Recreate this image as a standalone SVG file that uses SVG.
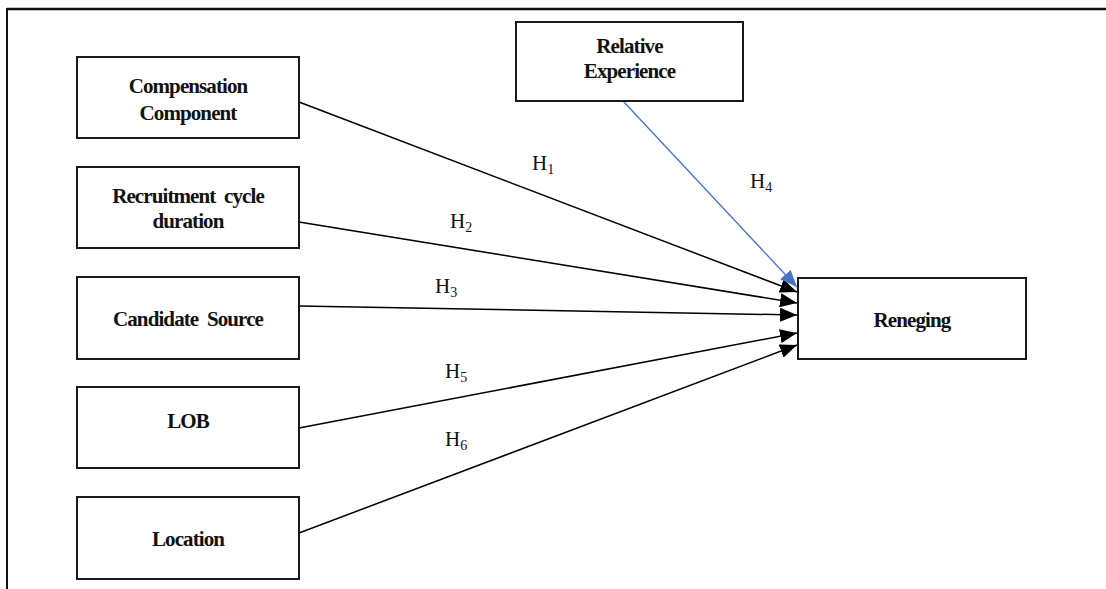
<svg xmlns="http://www.w3.org/2000/svg" width="1106" height="589" viewBox="0 0 1106 589">
<style>
.box{fill:#fff;stroke:#1a1a1a;stroke-width:2}
.lbl{font-family:"Liberation Serif","Times New Roman",serif;font-weight:bold;font-size:21px;letter-spacing:-0.9px;fill:#111;text-anchor:middle}
.h{font-family:"Liberation Serif","Times New Roman",serif;font-size:21px;fill:#111}
.h tspan{font-size:14px}
.c{stroke:#000;stroke-width:1.5;fill:none}
.cb{stroke:#4472C4;stroke-width:1.3;fill:none}
</style>
<defs>
<marker id="ab" markerUnits="userSpaceOnUse" markerWidth="18" markerHeight="14" refX="17" refY="7" orient="auto" viewBox="0 0 18 14">
<path d="M0,0 L17,7 L0,14 z" fill="#000"/>
</marker>
<marker id="abl" markerUnits="userSpaceOnUse" markerWidth="18" markerHeight="14" refX="17" refY="7" orient="auto" viewBox="0 0 18 14">
<path d="M0,0 L17,7 L0,14 z" fill="#4472C4"/>
</marker>
</defs>
<g id="frame">
<line x1="7" y1="9" x2="1106" y2="9" stroke="#111" stroke-width="2.5"/>
<line x1="7" y1="8" x2="7" y2="589" stroke="#111" stroke-width="2"/>
</g>
<g id="connectors">
<line class="c" x1="299" y1="102" x2="797" y2="292" marker-end="url(#ab)"/>
<line class="c" x1="299" y1="222" x2="797" y2="303" marker-end="url(#ab)"/>
<line class="c" x1="299" y1="306" x2="797" y2="315" marker-end="url(#ab)"/>
<line class="c" x1="299" y1="428" x2="797" y2="333" marker-end="url(#ab)"/>
<line class="c" x1="299" y1="533" x2="797" y2="345" marker-end="url(#ab)"/>
<line class="cb" x1="623" y1="101" x2="797" y2="287" marker-end="url(#abl)"/>
<text class="h" x="532" y="170">H<tspan dy="4">1</tspan></text>
<text class="h" x="450" y="228">H<tspan dy="4">2</tspan></text>
<text class="h" x="435" y="293">H<tspan dy="4">3</tspan></text>
<text class="h" x="750" y="188">H<tspan dy="4">4</tspan></text>
<text class="h" x="445" y="378">H<tspan dy="4">5</tspan></text>
<text class="h" x="445" y="446">H<tspan dy="4">6</tspan></text>
</g>
<g id="compensation">
<rect class="box" x="77" y="57" width="222" height="81"/>
<text class="lbl" x="188" y="93">Compensation</text>
<text class="lbl" x="188" y="120">Component</text>
</g>
<g id="recruitment">
<rect class="box" x="77" y="167" width="222" height="81"/>
<text class="lbl" x="188" y="203" xml:space="preserve">Recruitment  cycle</text>
<text class="lbl" x="188" y="228">duration</text>
</g>
<g id="candidate">
<rect class="box" x="77" y="277" width="222" height="82"/>
<text class="lbl" x="188" y="326" xml:space="preserve">Candidate  Source</text>
</g>
<g id="lob">
<rect class="box" x="77" y="387" width="222" height="81"/>
<text class="lbl" x="188" y="428">LOB</text>
</g>
<g id="location">
<rect class="box" x="77" y="497" width="222" height="82"/>
<text class="lbl" x="188" y="546">Location</text>
</g>
<g id="relative">
<rect class="box" x="516" y="22" width="227" height="79"/>
<text class="lbl" x="629.5" y="53">Relative</text>
<text class="lbl" x="629.5" y="78">Experience</text>
</g>
<g id="reneging">
<rect class="box" x="798" y="278" width="228" height="81"/>
<text class="lbl" x="912" y="327">Reneging</text>
</g>
</svg>
